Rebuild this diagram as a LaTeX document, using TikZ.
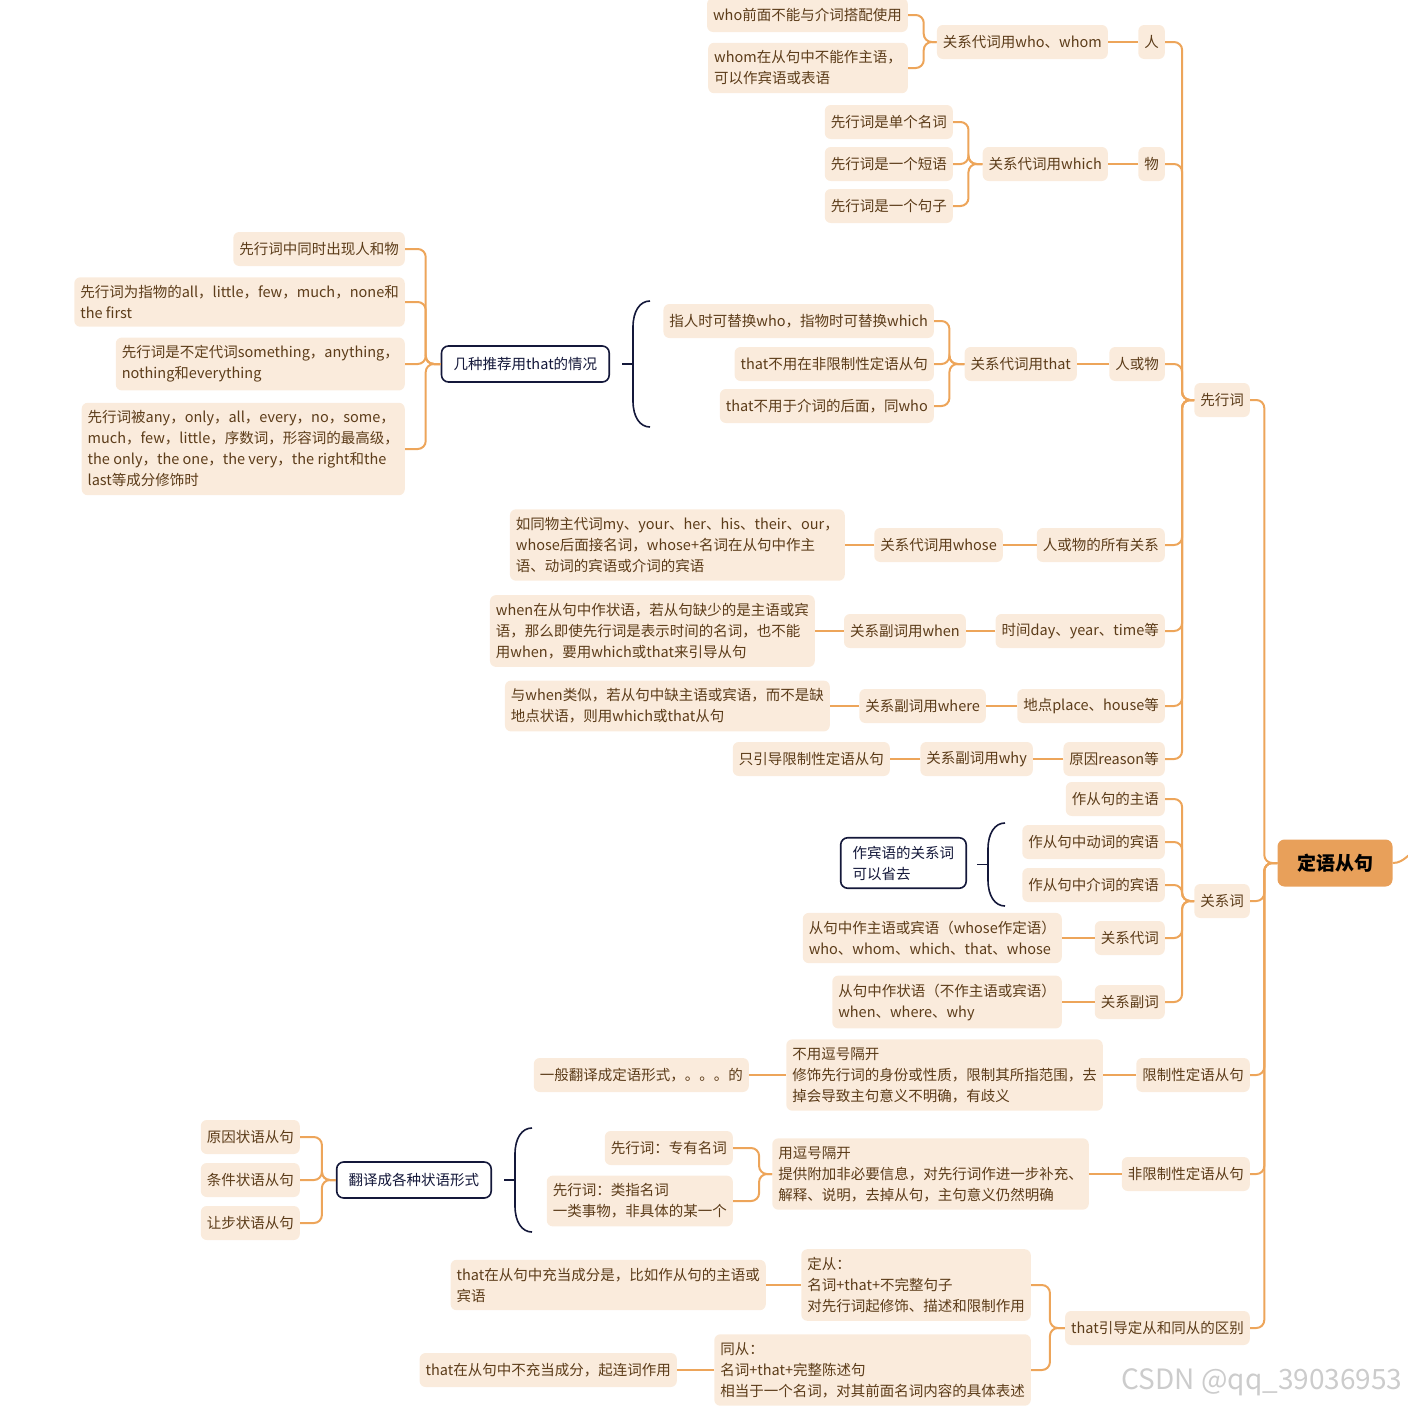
\documentclass[tikz,border=0pt]{standalone}
\usepackage{fontspec}
\setmainfont{Noto Sans CJK SC}
\usetikzlibrary{positioning, calc}
\definecolor{lineorange}{RGB}{237, 165, 90}
\definecolor{boxpeach}{RGB}{250, 235, 220}
\definecolor{rootorange}{RGB}{232, 160, 90}
\definecolor{textbrown}{RGB}{92, 60, 25}
\definecolor{navy}{RGB}{20, 24, 58}

\begin{document}
\begin{tikzpicture}[x=1pt, y=-1pt,
  tbox/.style={fill=boxpeach, rounded corners=6pt, text=textbrown, inner xsep=6pt, inner ysep=8pt, minimum height=34pt, font=\fontsize{14.5}{21}\selectfont, anchor=east, align=left},
  rootbox/.style={fill=rootorange, rounded corners=7pt, text=black, minimum width=115pt, minimum height=47pt, font=\fontsize{19}{23}\selectfont\bfseries},
  nbox/.style={draw=navy, line width=1.6pt, fill=white, rounded corners=7pt, text=navy, inner xsep=12pt, inner ysep=8pt, minimum height=36pt, font=\fontsize{14.5}{21}\selectfont, anchor=east, align=left},
  link/.style={draw=lineorange, line width=2pt, rounded corners=8pt},
  bracket/.style={draw=navy, line width=1.6pt}
]
  \useasboundingbox (0,0) rectangle (1408,1408);

  % root and first level
  \node[rootbox] (root) at (1335, 863) {定语从句};
  \node[tbox] (xianxing) at (1250, 400) {先行词};
  \node[tbox] (guanxici) at (1250, 901) {关系词};
  \node[tbox] (xianzhi) at (1250, 1075) {限制性定语从句};
  \node[tbox] (feixianzhi) at (1250, 1174) {非限制性定语从句};
  \node[tbox] (qubie) at (1250, 1328) {that引导定从和同从的区别};
  \coordinate (offright) at (1420, 848);

  % antecedent branch
  \node[tbox] (ren) at (1165, 42) {人};
  \node[tbox] (wu) at (1165, 164) {物};
  \node[tbox] (renwu) at (1165, 364) {人或物};
  \node[tbox] (suoyou) at (1165, 545) {人或物的所有关系};
  \node[tbox] (shijian) at (1165, 631) {时间day、year、time等};
  \node[tbox] (didian) at (1165, 706) {地点place、house等};
  \node[tbox] (yuanyin) at (1165, 759) {原因reason等};

  \node[tbox] (who) at (1108, 42) {关系代词用who、whom};
  \node[tbox] (who1) at (908, 15) {who前面不能与介词搭配使用};
  \node[tbox] (who2) at (908, 68) {whom在从句中不能作主语，\\可以作宾语或表语};

  \node[tbox] (which) at (1108, 164) {关系代词用which};
  \node[tbox] (which1) at (953, 122) {先行词是单个名词};
  \node[tbox] (which2) at (953, 164) {先行词是一个短语};
  \node[tbox] (which3) at (953, 206) {先行词是一个句子};

  \node[tbox] (that) at (1077, 364) {关系代词用that};
  \node[tbox] (that1) at (934, 321) {指人时可替换who，指物时可替换which};
  \node[tbox] (that2) at (934, 364) {that不用在非限制性定语从句};
  \node[tbox] (that3) at (934, 406) {that不用于介词的后面，同who};
  \node[nbox] (tuijian) at (610, 364) {几种推荐用that的情况};
  \node[tbox] (tj1) at (405, 249) {先行词中同时出现人和物};
  \node[tbox] (tj2) at (405, 302) {先行词为指物的all，little，few，much，none和\\the first};
  \node[tbox] (tj3) at (405, 364) {先行词是不定代词something，anything，\\nothing和everything};
  \node[tbox] (tj4) at (405, 449) {先行词被any，only，all，every，no，some，\\much，few，little，序数词，形容词的最高级，\\the only，the one，the very，the right和the\\last等成分修饰时};

  \node[tbox] (whose) at (1003, 545) {关系代词用whose};
  \node[tbox] (whose1) at (845, 545) {如同物主代词my、your、her、his、their、our，\\whose后面接名词，whose+名词在从句中作主\\语、动词的宾语或介词的宾语};
  \node[tbox] (when) at (966, 631) {关系副词用when};
  \node[tbox] (when1) at (815, 631) {when在从句中作状语，若从句缺少的是主语或宾\\语，那么即使先行词是表示时间的名词，也不能\\用when，要用which或that来引导从句};
  \node[tbox] (where) at (986, 706) {关系副词用where};
  \node[tbox] (where1) at (830, 706) {与when类似，若从句中缺主语或宾语，而不是缺\\地点状语，则用which或that从句};
  \node[tbox] (why) at (1033, 759) {关系副词用why};
  \node[tbox] (why1) at (890, 759) {只引导限制性定语从句};

  % relative word branch
  \node[tbox] (zhuyu) at (1165, 799) {作从句的主语};
  \node[tbox] (dongbin) at (1165, 842) {作从句中动词的宾语};
  \node[tbox] (jiebin) at (1165, 885) {作从句中介词的宾语};
  \node[tbox] (daici) at (1165, 938) {关系代词};
  \node[tbox] (fuci) at (1165, 1002) {关系副词};
  \node[nbox] (shengqu) at (967, 863) {作宾语的关系词\\可以省去};
  \node[tbox] (daici1) at (1062, 938) {从句中作主语或宾语（whose作定语）\\who、whom、which、that、whose};
  \node[tbox] (fuci1) at (1062, 1002) {从句中作状语（不作主语或宾语）\\when、where、why};

  % restrictive / non-restrictive
  \node[tbox] (xz1) at (1103, 1075) {不用逗号隔开\\修饰先行词的身份或性质，限制其所指范围，去\\掉会导致主句意义不明确，有歧义};
  \node[tbox] (xz2) at (749, 1075) {一般翻译成定语形式，。。。的};
  \node[tbox] (fx1) at (1089, 1174) {用逗号隔开\\提供附加非必要信息，对先行词作进一步补充、\\解释、说明，去掉从句，主句意义仍然明确};
  \node[tbox] (fx2) at (733, 1148) {先行词：专有名词};
  \node[tbox] (fx3) at (733, 1201) {先行词：类指名词\\一类事物，非具体的某一个};
  \node[nbox] (zhuangyu) at (492, 1180) {翻译成各种状语形式};
  \node[tbox] (zy1) at (300, 1137) {原因状语从句};
  \node[tbox] (zy2) at (300, 1180) {条件状语从句};
  \node[tbox] (zy3) at (300, 1223) {让步状语从句};

  % that: attributive vs appositive
  \node[tbox] (dingcong) at (1031, 1285) {定从：\\名词+that+不完整句子\\对先行词起修饰、描述和限制作用};
  \node[tbox] (dingcong1) at (766, 1285) {that在从句中充当成分是，比如作从句的主语或\\宾语};
  \node[tbox] (tongcong) at (1031, 1370) {同从：\\名词+that+完整陈述句\\相当于一个名词，对其前面名词内容的具体表述};
  \node[tbox] (tongcong1) at (677, 1370) {that在从句中不充当成分，起连词作用};

  \node[text=gray!40, font=\fontsize{28}{32}\selectfont, anchor=east] (mark) at (1406, 1382) {CSDN @qq\_39036953};

  % connectors
  \foreach \c in {xianxing, guanxici, xianzhi, feixianzhi, qubie}
    \draw[link] (root.west) -- ++(-13,0) |- (\c.east);
  \draw[link] (root.east) to[out=0, in=200] (offright);
  \foreach \c in {ren, wu, renwu, suoyou, shijian, didian, yuanyin}
    \draw[link] (xianxing.west) -- ++(-12,0) |- (\c.east);
  \foreach \c in {zhuyu, dongbin, jiebin, daici, fuci}
    \draw[link] (guanxici.west) -- ++(-12,0) |- (\c.east);
  \foreach \c in {who1, who2}
    \draw[link] (who.west) -- ++(-13,0) |- (\c.east);
  \foreach \c in {which1, which2, which3}
    \draw[link] (which.west) -- ++(-14,0) |- (\c.east);
  \foreach \c in {that1, that2, that3}
    \draw[link] (that.west) -- ++(-15,0) |- (\c.east);
  \foreach \c in {tj1, tj2, tj3, tj4}
    \draw[link] (tuijian.west) -- ++(-15,0) |- (\c.east);
  \foreach \c in {fx2, fx3}
    \draw[link] (fx1.west) -- ++(-13,0) |- (\c.east);
  \foreach \c in {zy1, zy2, zy3}
    \draw[link] (zhuangyu.west) -- ++(-14,0) |- (\c.east);
  \foreach \c in {dingcong, tongcong}
    \draw[link] (qubie.west) -- ++(-15,0) |- (\c.east);

  \draw[link] (ren.west) -- (who.east);
  \draw[link] (wu.west) -- (which.east);
  \draw[link] (renwu.west) -- (that.east);
  \draw[link] (suoyou.west) -- (whose.east);
  \draw[link] (whose.west) -- (whose1.east);
  \draw[link] (shijian.west) -- (when.east);
  \draw[link] (when.west) -- (when1.east);
  \draw[link] (didian.west) -- (where.east);
  \draw[link] (where.west) -- (where1.east);
  \draw[link] (yuanyin.west) -- (why.east);
  \draw[link] (why.west) -- (why1.east);
  \draw[link] (daici.west) -- (daici1.east);
  \draw[link] (fuci.west) -- (fuci1.east);
  \draw[link] (xianzhi.west) -- (xz1.east);
  \draw[link] (xz1.west) -- (xz2.east);
  \draw[link] (feixianzhi.west) -- (fx1.east);
  \draw[link] (dingcong.west) -- (dingcong1.east);
  \draw[link] (tongcong.west) -- (tongcong1.east);

  % braces
  \coordinate (b1top) at (650, 301);
  \coordinate (b1bot) at (650, 427);
  \coordinate (b2top) at (1005, 823);
  \coordinate (b2bot) at (1005, 906);
  \coordinate (b3top) at (532, 1128);
  \coordinate (b3bot) at (532, 1232);
  \foreach \b in {b1, b2, b3} {
    \draw[bracket] (\b top) .. controls +(-10,0) and +(0,-16) .. ($(\b top)+(-17,26)$)
      -- ($(\b bot)+(-17,-26)$) .. controls +(0,16) and +(-10,0) .. (\b bot);
    \draw[bracket] ($(\b top)!0.5!(\b bot)+(-17,0)$) -- ++(-11,0);
  }
\end{tikzpicture}
\end{document}
